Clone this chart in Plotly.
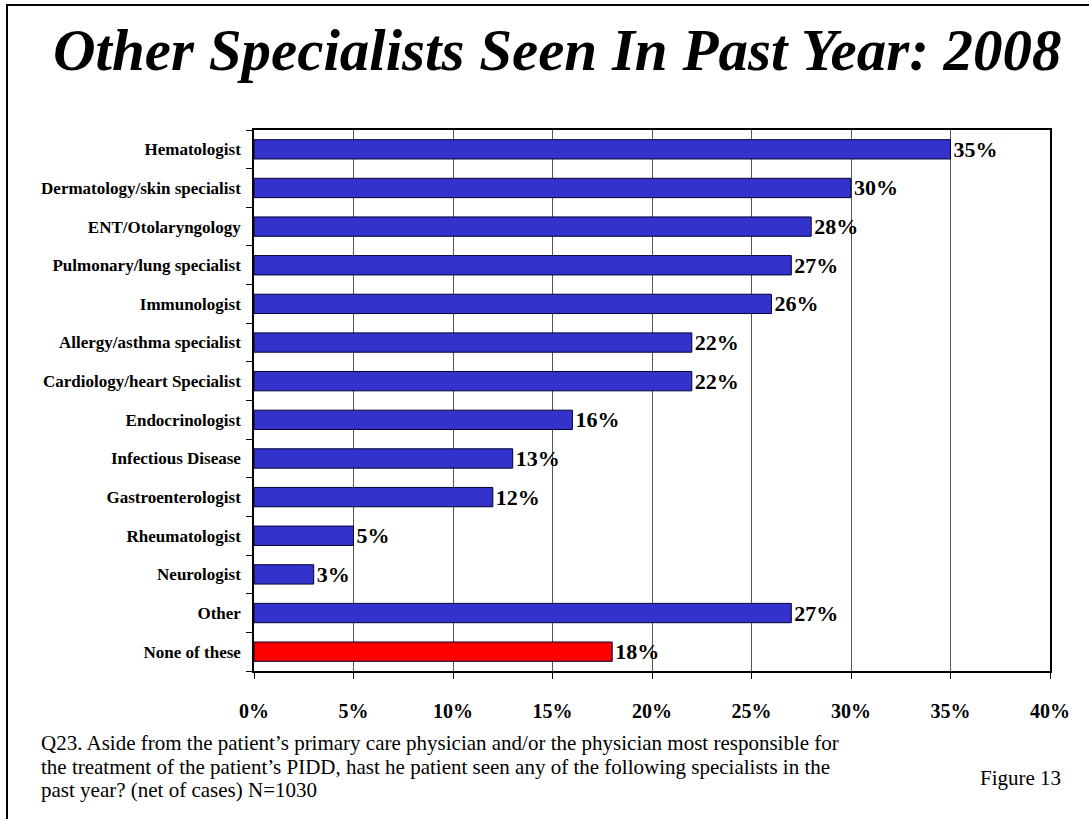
import plotly.graph_objects as go

categories = ["Hematologist", "Dermatology/skin specialist", "ENT/Otolaryngology",
              "Pulmonary/lung specialist", "Immunologist", "Allergy/asthma specialist",
              "Cardiology/heart Specialist", "Endocrinologist", "Infectious Disease",
              "Gastroenterologist", "Rheumatologist", "Neurologist", "Other", "None of these"]
values = [35, 30, 28, 27, 26, 22, 22, 16, 13, 12, 5, 3, 27, 18]
tick_vals = [0, 5, 10, 15, 20, 25, 30, 35, 40]
tick_text = ["0%", "5%", "10%", "15%", "20%", "25%", "30%", "35%", "40%"]
footnote_lines = [
    "Q23. Aside from the patient\u2019s primary care physician and/or the physician most responsible for",
    "the treatment of the patient\u2019s PIDD, hast he patient seen any of the following specialists in the",
    "past year? (net of cases) N=1030",
]

colors = ["#3333CC"] * (len(categories) - 1) + ["#FF0000"]
SERIF = "Liberation Serif, Times New Roman, serif"

W, H = 1089, 819
L, R, T, B = 254, 39, 130, 148
pw, ph = W - L - R, H - T - B

def px(x):
    return (x - L) / pw

def py(y):
    return (H - B - y) / ph

fig = go.Figure()
fig.add_trace(go.Bar(
    x=values, y=categories, orientation="h",
    marker=dict(color=colors, line=dict(color="#000033", width=1)),
    width=0.5,
    text=[f"<b>{v}%</b>" for v in values], textposition="outside",
    textfont=dict(family=SERIF, size=22, color="black"),
    constraintext="none",
    cliponaxis=False,
))

fig.update_layout(
    width=W, height=H,
    margin=dict(l=L, r=R, t=T, b=B),
    paper_bgcolor="white", plot_bgcolor="white",
    showlegend=False,
    font=dict(family=SERIF, color="black"),
    xaxis=dict(range=[0, 40], tickvals=tick_vals, ticktext=[f"<b>{t}</b>" for t in tick_text],
               tickfont=dict(family=SERIF, size=20, color="black"),
               showgrid=True, gridcolor="#555555", gridwidth=1,
               showline=True, linecolor="black", linewidth=1.5, mirror=True,
               ticks="outside", ticklen=6, tickcolor="black", zeroline=False,
               ticklabelstandoff=15),
    yaxis=dict(autorange="reversed", type="category",
               tickvals=categories, ticktext=[f"<b>{c}</b>" for c in categories],
               tickfont=dict(family=SERIF, size=17, color="black"),
               showline=True, linecolor="black", linewidth=1.5, mirror=True,
               ticks="outside", ticklen=6, tickson="boundaries", tickcolor="black",
               showgrid=False, ticklabelstandoff=8),
    bargap=0.5,
)

# Title
fig.add_annotation(text="<b><i>Other Specialists Seen In Past Year: 2008</i></b>",
                   xref="paper", yref="paper", x=px(557), y=py(50),
                   xanchor="center", yanchor="middle", showarrow=False,
                   font=dict(family=SERIF, size=59, color="black"))

# Footnote
for line, yy in zip(footnote_lines, [743, 767, 790]):
    fig.add_annotation(text=line, xref="paper", yref="paper", x=px(39), y=py(yy),
                       xanchor="left", yanchor="middle", align="left", showarrow=False,
                       font=dict(family=SERIF, size=21, color="black"))
fig.add_annotation(text="Figure 13", xref="paper", yref="paper", x=px(1063), y=py(778),
                   xanchor="right", yanchor="middle", showarrow=False,
                   font=dict(family=SERIF, size=21, color="black"))

# Slide frame (left and top edges)
fig.add_shape(type="line", xref="paper", yref="paper", x0=px(7), x1=px(7), y0=py(5), y1=py(819),
              line=dict(color="black", width=2))
fig.add_shape(type="line", xref="paper", yref="paper", x0=px(6), x1=px(1089), y0=py(5), y1=py(5),
              line=dict(color="black", width=2))

fig.write_html("out.html")
